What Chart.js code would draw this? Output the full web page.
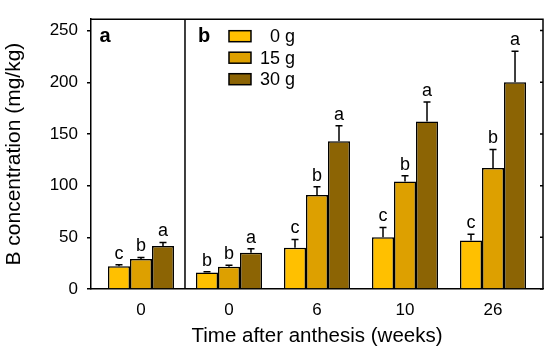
<!DOCTYPE html>
<html><head><meta charset="utf-8">
<script src="https://cdn.jsdelivr.net/npm/chart.js@4/dist/chart.umd.min.js"></script>
<style>html,body{margin:0;padding:0;background:#fff}#wrap{width:550px;height:355px}</style>
</head><body><div id="wrap"><canvas id="c" width="550" height="355"></canvas></div>
<script>
// ---- data ----
const weekLabels = ['0', '0', '6', '10', '26'];
const groupPositions = [0, 1, 2, 3, 4];
const seriesNames = ['0 g', '15 g', '30 g'];
const g0 = [22, 16, 40, 50, 47];
const g0err = [1.5, 0.8, 8, 9.5, 6];
const g15 = [29, 21.5, 91, 104, 117];
const g15err = [1.5, 1.5, 8, 5.5, 18];
const g30 = [41.5, 35, 143, 162, 200];
const g30err = [3.5, 4, 15, 19, 30];
const letters0 = ['c', 'b', 'c', 'c', 'c'];
const letters15 = ['b', 'b', 'b', 'b', 'b'];
const letters30 = ['a', 'a', 'a', 'a', 'a'];
const yTicks = [0, 50, 100, 150, 200, 250];
const panelLabels = ['a', 'b'];
const panelDivider = 0.5;

const colors = ['#FFC000', '#DDA000', '#8C6404'];
const FONT = "'Liberation Sans', Arial, sans-serif";
Chart.defaults.font.family = FONT;
Chart.defaults.color = '#000';

const values = [g0, g15, g30];
const errs = [g0err, g15err, g30err];
const letters = [letters0, letters15, letters30];

const decorPlugin = {
  id: 'decor',
  afterDatasetsDraw(chart) {
    const ctx = chart.ctx;
    const ys = chart.scales.y;
    ctx.save();
    chart.data.datasets.forEach((ds, di) => {
      const meta = chart.getDatasetMeta(di);
      meta.data.forEach((bar, i) => {
        const v = values[di][i], e = errs[di][i];
        const yTop = ys.getPixelForValue(v + e);
        const yBar = ys.getPixelForValue(v);
        ctx.strokeStyle = '#000';
        ctx.lineWidth = 1.5;
        ctx.beginPath();
        ctx.moveTo(bar.x, yBar);
        ctx.lineTo(bar.x, yTop);
        ctx.moveTo(bar.x - 3.5, yTop);
        ctx.lineTo(bar.x + 3.5, yTop);
        ctx.stroke();
        ctx.fillStyle = '#000';
        ctx.font = '18px ' + FONT;
        ctx.textAlign = 'center';
        ctx.textBaseline = 'alphabetic';
        ctx.fillText(letters[di][i], bar.x, yTop - 6);
      });
    });
    ctx.restore();
  },
  afterDraw(chart) {
    const ctx = chart.ctx;
    const a = chart.chartArea;
    const xs = chart.scales.x, ys = chart.scales.y;
    ctx.save();
    ctx.strokeStyle = '#000';
    ctx.lineWidth = 1.5;
    ctx.beginPath();
    ctx.moveTo(a.left, a.top);
    ctx.lineTo(a.right, a.top);
    ctx.lineTo(a.right, a.bottom);
    const dx = xs.getPixelForValue(panelDivider);
    ctx.moveTo(dx, a.top);
    ctx.lineTo(dx, a.bottom);
    yTicks.forEach(t => {
      const y = ys.getPixelForValue(t);
      ctx.moveTo(a.right, y);
      ctx.lineTo(a.right - 3, y);
    });
    ctx.stroke();
    // panel labels
    ctx.fillStyle = '#000';
    ctx.font = 'bold 20px ' + FONT;
    ctx.textAlign = 'center';
    ctx.textBaseline = 'middle';
    ctx.fillText(panelLabels[0], a.left + 14, a.top + 17);
    ctx.fillText(panelLabels[1], dx + 19, a.top + 17);
    // legend
    ctx.font = '18px ' + FONT;
    chart.data.datasets.forEach((ds, di) => {
      const cy = a.top + 17 + di * 21.5;
      const bx = dx + 44;
      ctx.fillStyle = ds.backgroundColor;
      ctx.fillRect(bx, cy - 5.5, 22, 11);
      ctx.lineWidth = 1.5;
      ctx.strokeRect(bx, cy - 5.5, 22, 11);
      ctx.fillStyle = '#000';
      ctx.textAlign = 'right';
      ctx.fillText(ds.label, dx + 110, cy + 1);
    });
    ctx.restore();
  }
};

new Chart(document.getElementById('c'), {
  type: 'bar',
  data: {
    datasets: seriesNames.map((name, di) => ({
      label: name,
      data: groupPositions.map((x, i) => ({ x: x, y: values[di][i] })),
      backgroundColor: colors[di],
      borderColor: '#000',
      borderWidth: 1.5,
      categoryPercentage: 0.75,
      barPercentage: 1
    }))
  },
  options: {
    responsive: false,
    devicePixelRatio: 1,
    animation: false,
    layout: { padding: { left: 0, right: 7, top: 6, bottom: 0 } },
    plugins: { legend: { display: false }, tooltip: { enabled: false } },
    scales: {
      x: {
        type: 'linear',
        min: -0.568,
        max: 4.568,
        offset: false,
        afterBuildTicks: s => { s.ticks = groupPositions.map(v => ({ value: v })); },
        ticks: {
          callback: v => weekLabels[v],
          font: { size: 17 },
          color: '#000',
          padding: 11,
          autoSkip: false,
          maxRotation: 0
        },
        grid: { display: false, drawTicks: false },
        border: { display: true, color: '#000', width: 1.5 },
        title: { display: true, text: 'Time after anthesis (weeks)', font: { size: 20.5 }, color: '#000', padding: { top: 0, bottom: 6 } },
        afterFit: s => { s.height = 66; }
      },
      y: {
        min: 0,
        max: 261,
        afterBuildTicks: s => { s.ticks = yTicks.map(v => ({ value: v })); },
        ticks: { font: { size: 17 }, color: '#000', padding: 9 },
        grid: { drawOnChartArea: false, drawTicks: true, tickLength: 4, color: '#000', lineWidth: 1.5 },
        border: { display: true, color: '#000', width: 1.5 },
        title: { display: true, text: 'B concentration (mg/kg)', font: { size: 21 }, color: '#000', padding: { top: 2, bottom: 0 } },
        afterFit: s => { s.width = 91; }
      }
    }
  },
  plugins: [decorPlugin]
});
</script></body></html>
